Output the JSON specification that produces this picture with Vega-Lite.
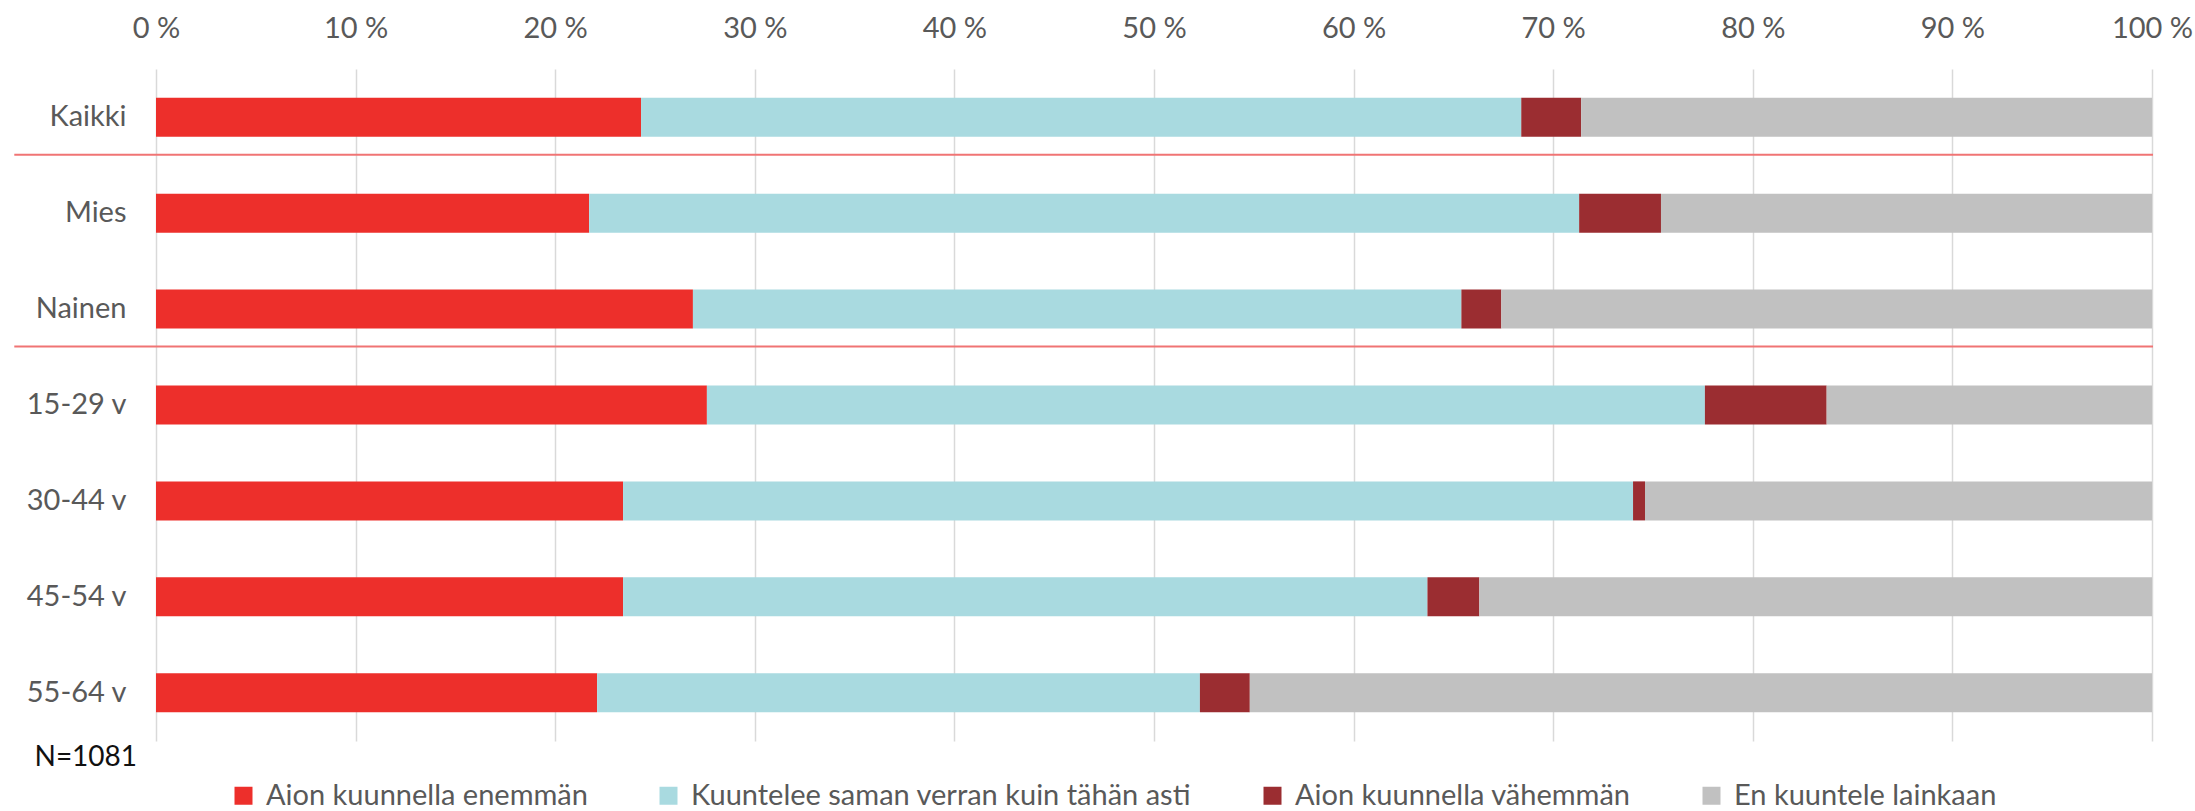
{
  "$schema": "https://vega.github.io/schema/vega-lite/v6.json",
  "width": 1996,
  "height": 672,
  "autosize": {"type": "none"},
  "padding": {"left": 156, "top": 69, "right": 43, "bottom": 70},
  "background": "white",
  "config": {"view": {"stroke": null}, "font": "Lato"},
  "layer": [
    {
      "data": {"values": [
        {"group": "Kaikki", "series": "Aion kuunnella enemmän", "value": 24.3},
        {"group": "Kaikki", "series": "Kuuntelee saman verran kuin tähän asti", "value": 44.1},
        {"group": "Kaikki", "series": "Aion kuunnella vähemmän", "value": 3.0},
        {"group": "Kaikki", "series": "En kuuntele lainkaan", "value": 28.6},
        {"group": "Mies", "series": "Aion kuunnella enemmän", "value": 21.7},
        {"group": "Mies", "series": "Kuuntelee saman verran kuin tähän asti", "value": 49.6},
        {"group": "Mies", "series": "Aion kuunnella vähemmän", "value": 4.1},
        {"group": "Mies", "series": "En kuuntele lainkaan", "value": 24.6},
        {"group": "Nainen", "series": "Aion kuunnella enemmän", "value": 26.9},
        {"group": "Nainen", "series": "Kuuntelee saman verran kuin tähän asti", "value": 38.5},
        {"group": "Nainen", "series": "Aion kuunnella vähemmän", "value": 2.0},
        {"group": "Nainen", "series": "En kuuntele lainkaan", "value": 32.6},
        {"group": "15-29 v", "series": "Aion kuunnella enemmän", "value": 27.6},
        {"group": "15-29 v", "series": "Kuuntelee saman verran kuin tähän asti", "value": 50.0},
        {"group": "15-29 v", "series": "Aion kuunnella vähemmän", "value": 6.1},
        {"group": "15-29 v", "series": "En kuuntele lainkaan", "value": 16.3},
        {"group": "30-44 v", "series": "Aion kuunnella enemmän", "value": 23.4},
        {"group": "30-44 v", "series": "Kuuntelee saman verran kuin tähän asti", "value": 50.6},
        {"group": "30-44 v", "series": "Aion kuunnella vähemmän", "value": 0.6},
        {"group": "30-44 v", "series": "En kuuntele lainkaan", "value": 25.4},
        {"group": "45-54 v", "series": "Aion kuunnella enemmän", "value": 23.4},
        {"group": "45-54 v", "series": "Kuuntelee saman verran kuin tähän asti", "value": 40.3},
        {"group": "45-54 v", "series": "Aion kuunnella vähemmän", "value": 2.6},
        {"group": "45-54 v", "series": "En kuuntele lainkaan", "value": 33.7},
        {"group": "55-64 v", "series": "Aion kuunnella enemmän", "value": 22.1},
        {"group": "55-64 v", "series": "Kuuntelee saman verran kuin tähän asti", "value": 30.2},
        {"group": "55-64 v", "series": "Aion kuunnella vähemmän", "value": 2.5},
        {"group": "55-64 v", "series": "En kuuntele lainkaan", "value": 45.2}
      ]},
      "transform": [
        {"calculate": "indexof(['Aion kuunnella enemmän', 'Kuuntelee saman verran kuin tähän asti', 'Aion kuunnella vähemmän', 'En kuuntele lainkaan'], datum.series)", "as": "o"}
      ],
      "mark": {"type": "bar"},
      "encoding": {
        "y": {
          "field": "group", "type": "nominal",
          "sort": ["Kaikki", "Mies", "Nainen", "15-29 v", "30-44 v", "45-54 v", "55-64 v"],
          "scale": {"paddingInner": 0.593, "paddingOuter": 0.3},
          "axis": {"title": "N=1081", "titleAngle": 0, "titleX": -122, "titleY": 696, "titleBaseline": "alphabetic", "titleAlign": "left", "titleFontSize": 28, "titleFontWeight": "normal", "titleColor": "#111111", "domain": false, "ticks": false, "tickSize": 0, "labelFontSize": 29, "labelColor": "#595959", "labelPadding": 30, "grid": false}
        },
        "x": {
          "field": "value", "type": "quantitative", "stack": "zero",
          "scale": {"domain": [0, 100], "nice": false},
          "axis": {"orient": "top", "title": null, "values": [0, 10, 20, 30, 40, 50, 60, 70, 80, 90, 100], "labelExpr": "datum.value + ' %'", "grid": true, "gridColor": "#D9D9D9", "gridWidth": 1.5, "domain": false, "ticks": false, "tickSize": 0, "labelFontSize": 29, "labelColor": "#595959", "labelPadding": 26, "labelFlush": false}
        },
        "color": {
          "field": "series", "type": "nominal",
          "scale": {"domain": ["Aion kuunnella enemmän", "Kuuntelee saman verran kuin tähän asti", "Aion kuunnella vähemmän", "En kuuntele lainkaan"], "range": ["#ED2F2B", "#A9DAE0", "#9B2D31", "#C1C1C1"]},
          "legend": {"orient": "none", "legendX": 73, "legendY": 712, "direction": "horizontal", "columns": 4, "title": null, "symbolType": "square", "symbolSize": 324, "symbolStrokeWidth": 0, "symbolOpacity": 1, "labelFontSize": 29, "labelColor": "#595959", "columnPadding": 66, "labelOffset": 8, "padding": 0, "labelLimit": 1000}
        },
        "order": {"field": "o", "type": "quantitative"}
      }
    },
    {
      "data": {"values": [{"group": "Mies"}, {"group": "15-29 v"}]},
      "mark": {"type": "rule", "color": "#F07474", "strokeWidth": 2},
      "encoding": {
        "y": {"field": "group", "type": "nominal", "bandPosition": -1, "sort": ["Kaikki", "Mies", "Nainen", "15-29 v", "30-44 v", "45-54 v", "55-64 v"]},
        "x": {"datum": -7.1},
        "x2": {"datum": 100.05}
      }
    }
  ]
}
